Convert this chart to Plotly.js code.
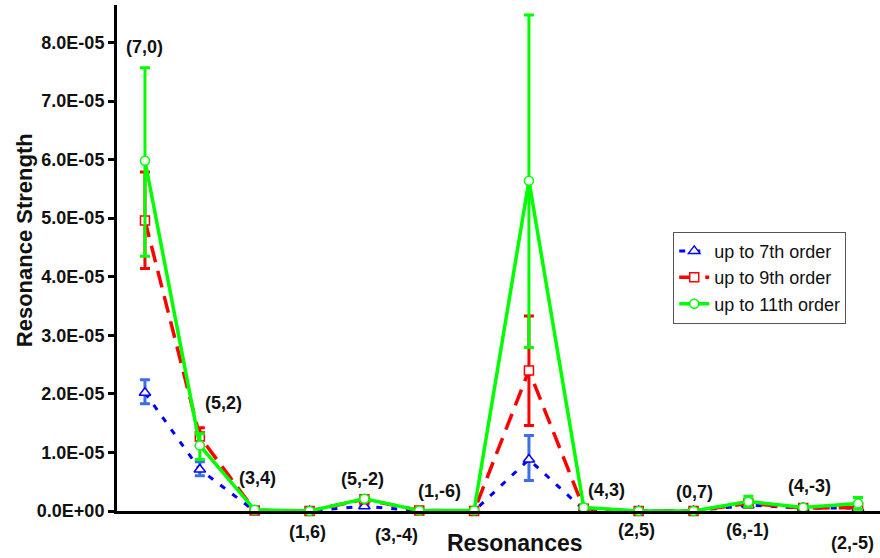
<!DOCTYPE html>
<html>
<head>
<meta charset="utf-8">
<script src="https://cdn.plot.ly/plotly-3.0.1.min.js"></script>
<style>html,body{margin:0;padding:0;background:#fff;}#chart{width:880px;height:558px;}</style>
</head>
<body>
<div id="chart"></div>
<script>
// Resonance categories (the large peak has no visible label in the source)
const categories = ['(7,0)','(5,2)','(3,4)','(1,6)','(5,-2)','(3,-4)','(1,-6)','peak','(4,3)','(2,5)','(0,7)','(6,-1)','(4,-3)','(2,-5)'];
const pointLabels = ['(7,0)','(5,2)','(3,4)','(1,6)','(5,-2)','(3,-4)','(1,-6)','','(4,3)','(2,5)','(0,7)','(6,-1)','(4,-3)','(2,-5)'];

// Series values (units of 1e-5)
const order7  = [2.02, 0.71, 0.00, 0.00, 0.08, 0.00, 0.00, 0.88, 0.02, 0.00, 0.00, 0.10, 0.05, 0.05];
const order7Up   = [0.22, 0.13, null, null, 0.02, null, null, 0.41, null, null, null, 0.02, null, null];
const order7Down = [0.19, 0.11, null, null, 0.02, null, null, 0.36, null, null, null, 0.02, null, null];

const order9  = [4.96, 1.27, 0.01, 0.00, 0.20, 0.01, 0.00, 2.40, 0.04, 0.00, 0.00, 0.13, 0.05, 0.06];
const order9Up   = [0.83, 0.15, null, null, 0.03, null, null, 0.93, null, null, null, 0.03, 0.01, 0.02];
const order9Down = [0.82, 0.15, null, null, 0.03, null, null, 0.94, null, null, null, 0.03, 0.01, 0.02];

const order11 = [5.98, 1.12, 0.02, 0.00, 0.21, 0.01, 0.01, 5.64, 0.06, 0.00, 0.00, 0.16, 0.06, 0.13];
const order11Up   = [1.59, 0.20, null, null, 0.03, null, null, 2.83, null, null, null, 0.09, 0.01, 0.10];
const order11Down = [1.63, 0.24, null, null, 0.03, null, null, 2.85, null, null, null, 0.09, 0.01, 0.10];

const yTickVals = [0, 1, 2, 3, 4, 5, 6, 7, 8];
const yTickText = ['0.0E+00','1.0E-05','2.0E-05','3.0E-05','4.0E-05','5.0E-05','6.0E-05','7.0E-05','8.0E-05'];

// label placement (layout only): pixel shifts from the point column / from the x axis line
const labelShiftX = [0, 24, 3, -2, -2, -23, -35, 0, 23, -2, 1, -1, 6, -6];
const labelShiftY = [464, 108, 33, -21, 32, -24, 20, 0, 21, -19, 19, -19, 25, -32];

const SCALE = 1e-5;
const sc = a => a.map(v => v === null ? null : v * SCALE);
const xIdx = categories.map((c, i) => i);
const FONT = '"Liberation Sans", Arial, sans-serif';

const traces = [
  {
    name: 'up to 7th order', x: xIdx, y: sc(order7), type: 'scatter', mode: 'lines+markers',
    cliponaxis: false,
    line: {color: '#0000FF', width: 3, dash: '6px,9px'},
    marker: {symbol: 'triangle-up', size: 10, color: '#FFFFFF', line: {color: '#0000FF', width: 1.5}},
    error_y: {type: 'data', symmetric: false, array: sc(order7Up), arrayminus: sc(order7Down), color: '#3C6EE6', thickness: 3, width: 5}
  },
  {
    name: 'up to 9th order', x: xIdx, y: sc(order9), type: 'scatter', mode: 'lines+markers',
    cliponaxis: false,
    line: {color: '#FF0000', width: 3.5, dash: '17px,9px'},
    marker: {symbol: 'square', size: 9, color: '#FFFFFF', line: {color: '#FF0000', width: 1.5}},
    error_y: {type: 'data', symmetric: false, array: sc(order9Up), arrayminus: sc(order9Down), color: '#FF0000', thickness: 3, width: 5}
  },
  {
    name: 'up to 11th order', x: xIdx, y: sc(order11), type: 'scatter', mode: 'lines+markers',
    cliponaxis: false,
    line: {color: '#00FF00', width: 3.5},
    marker: {symbol: 'circle', size: 9, color: '#FFFFFF', line: {color: '#00FF00', width: 1.5}},
    error_y: {type: 'data', symmetric: false, array: sc(order11Up), arrayminus: sc(order11Down), color: '#00FF00', thickness: 3, width: 5}
  }
];

const annotations = pointLabels.map((t, i) => ({
  text: t, x: xIdx[i], y: 0, xref: 'x', yref: 'paper',
  xshift: labelShiftX[i], yshift: labelShiftY[i], xanchor: 'center', yanchor: 'middle',
  showarrow: false, font: {family: FONT, size: 18, color: '#111', weight: 700}
})).filter(a => a.text !== '');

annotations.push({
  text: 'Resonances', xref: 'paper', yref: 'paper', x: (515 - 117) / 763, y: -0.063,
  xanchor: 'center', yanchor: 'middle',
  showarrow: false, font: {family: FONT, size: 23, color: '#111', weight: 700}
});
annotations.push({
  text: 'Resonance Strength', xref: 'paper', yref: 'paper', x: -0.122, y: 0.535, textangle: -90,
  xanchor: 'center', yanchor: 'middle',
  showarrow: false, font: {family: FONT, size: 22, color: '#111', weight: 700}
});

const layout = {
  width: 880, height: 558,
  margin: {l: 117, r: 0, t: 5, b: 47},
  paper_bgcolor: '#FFFFFF', plot_bgcolor: '#FFFFFF',
  showlegend: true,
  legend: {
    x: 0.729, y: 0.552, xanchor: 'left', yanchor: 'top',
    bgcolor: '#FFFFFF', bordercolor: '#555555', borderwidth: 1,
    font: {family: FONT, size: 18, color: '#111'},
    tracegroupgap: 0
  },
  xaxis: {
    range: [-0.51, 13.4], showticklabels: false, ticks: '', showgrid: false, zeroline: false,
    showline: true, linecolor: '#000', linewidth: 3
  },
  yaxis: {
    range: [0, 8.64e-5], tickvals: yTickVals.map(v => v * SCALE), ticktext: yTickText,
    ticks: 'outside', ticklen: 6, tickwidth: 3, tickcolor: '#000',
    tickfont: {family: FONT, size: 18, color: '#111', weight: 700},
    showgrid: false, zeroline: false, showline: true, linecolor: '#000', linewidth: 3
  },
  annotations: annotations
};

Plotly.newPlot('chart', traces, layout, {displayModeBar: false, staticPlot: true});
</script>
</body>
</html>
